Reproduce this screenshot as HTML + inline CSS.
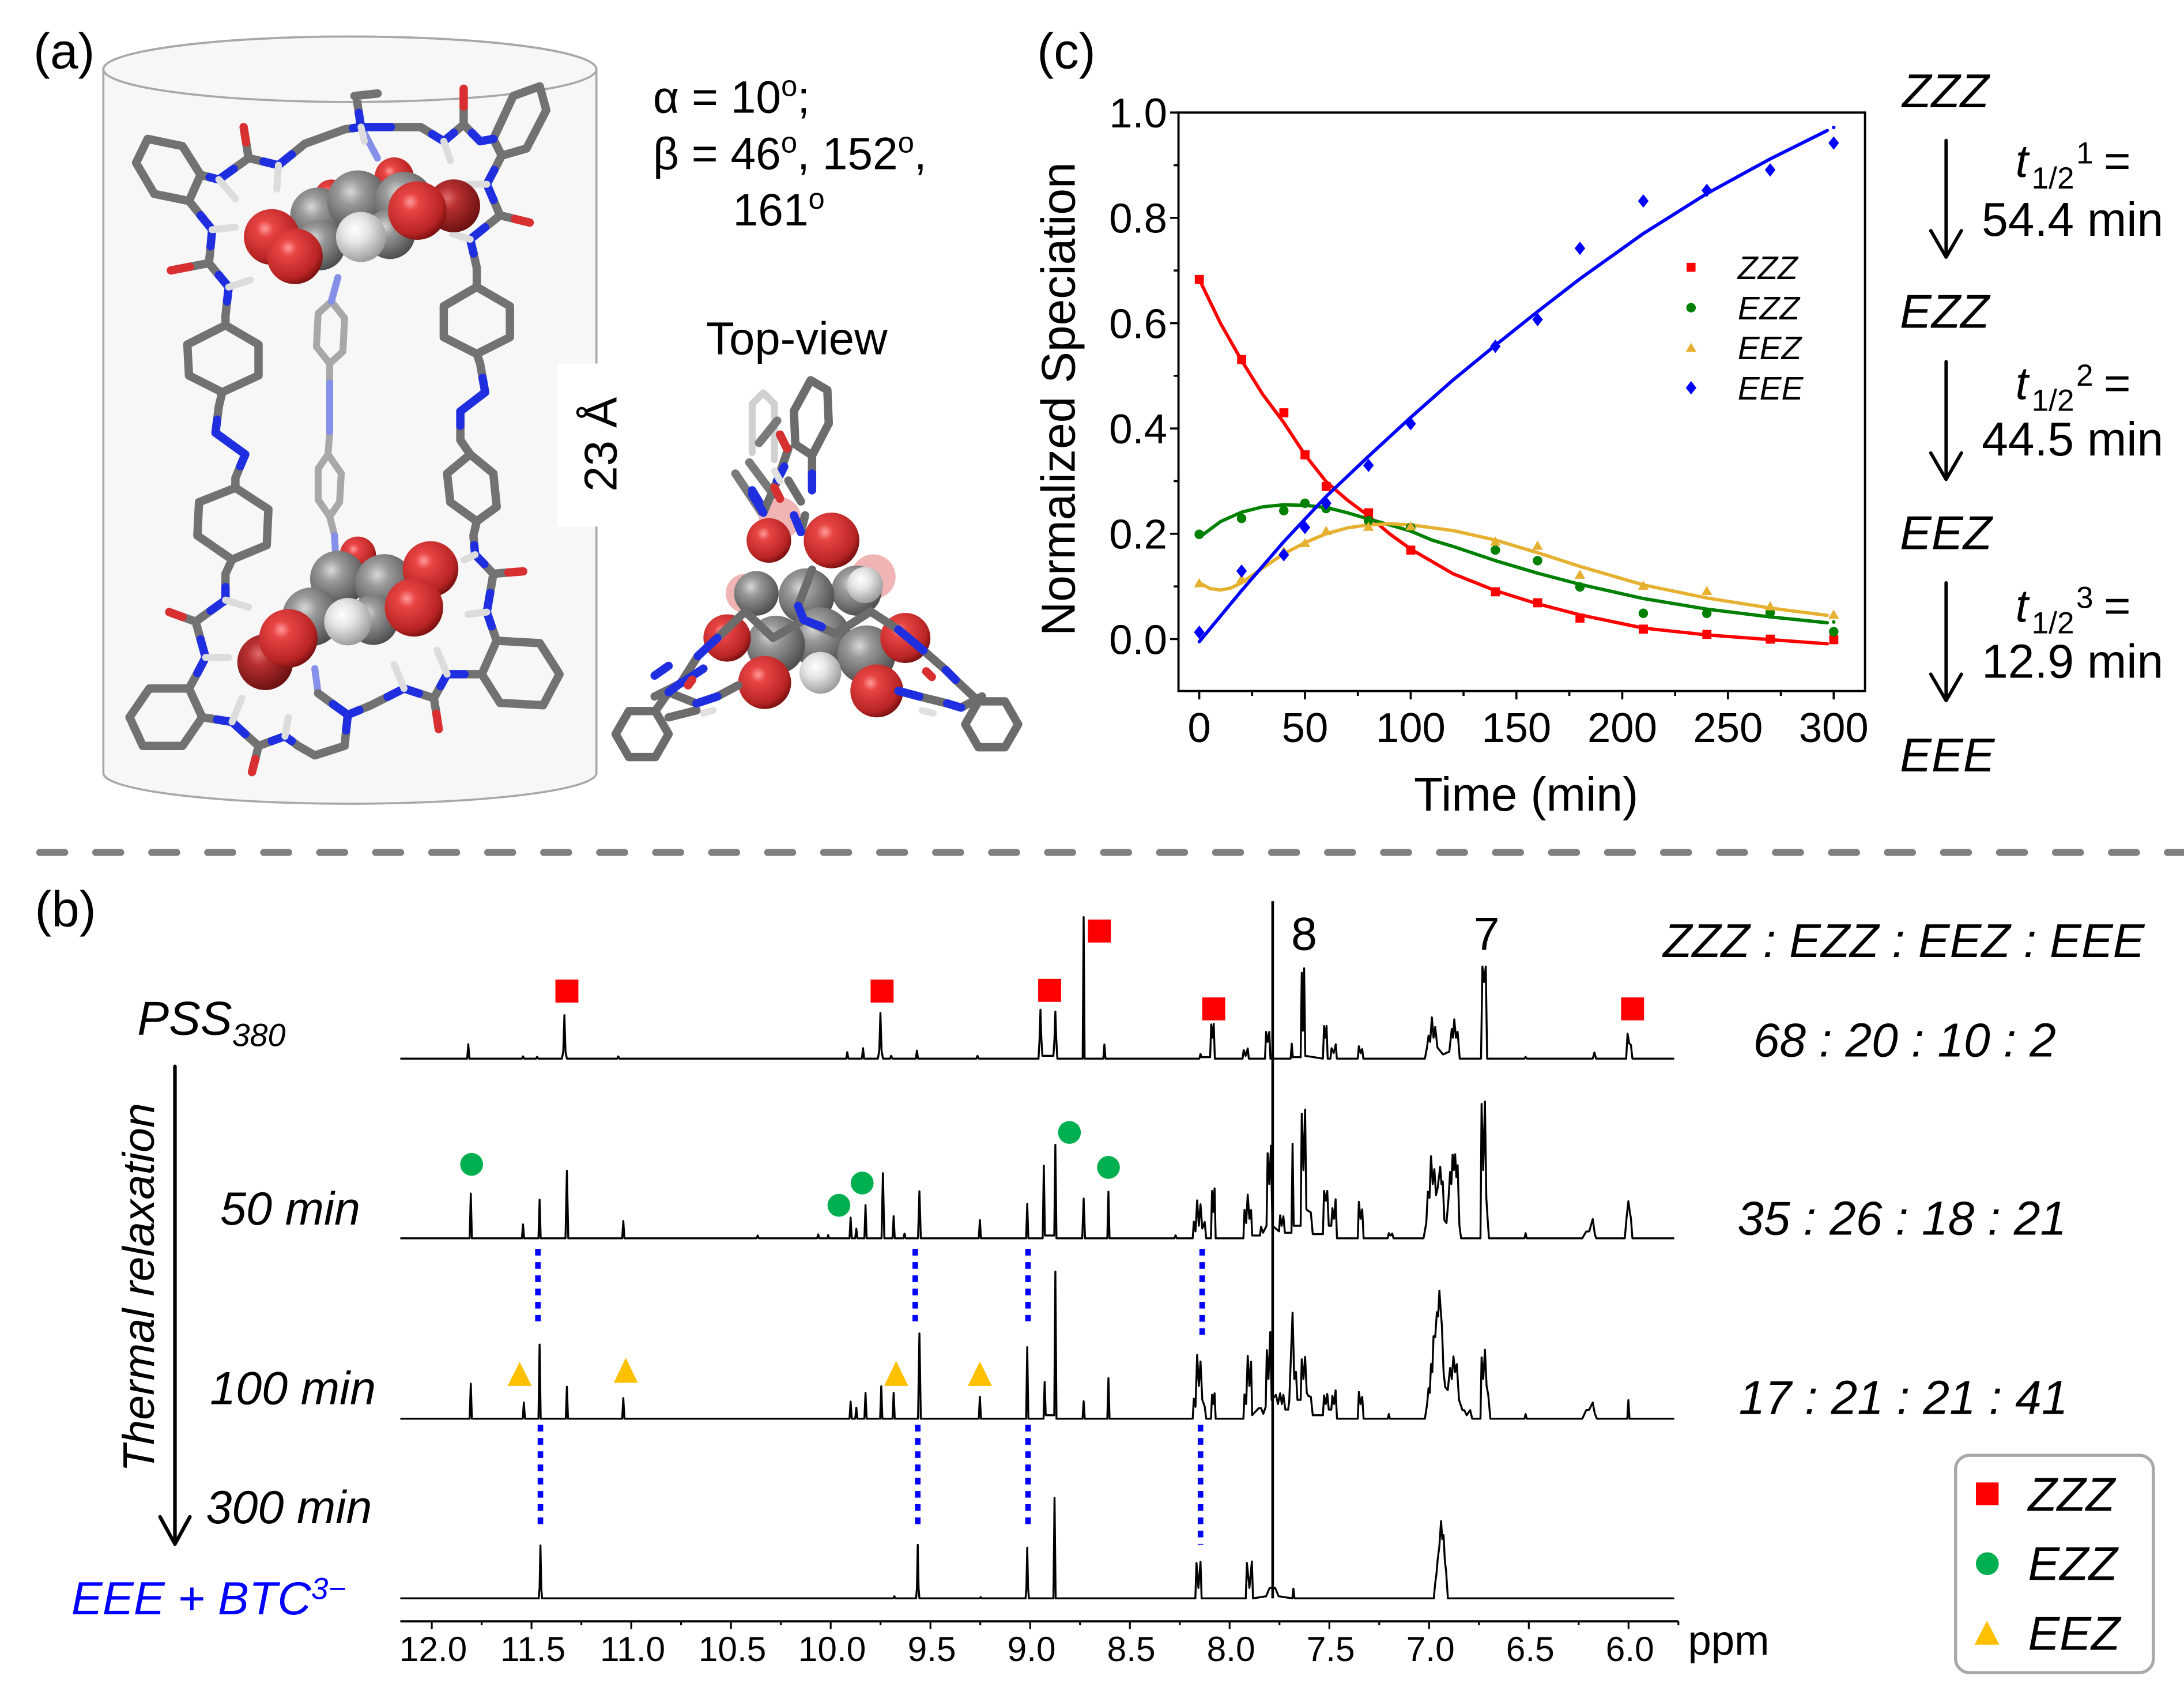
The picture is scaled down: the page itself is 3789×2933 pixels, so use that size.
<!DOCTYPE html>
<html><head><meta charset="utf-8"><style>
html,body{margin:0;padding:0;background:#fff;}
svg{display:block;}
text{font-family:"Liberation Sans",Arial,sans-serif;fill:#000;}
.it{font-style:italic;}
</style></head><body>
<svg xmlns="http://www.w3.org/2000/svg" width="3789" height="2933" viewBox="0 0 1568 1214" preserveAspectRatio="none">
<defs>
<radialGradient id="gR" cx="0.38" cy="0.35" r="0.68"><stop offset="0" stop-color="#ff9a9a"/><stop offset="0.22" stop-color="#e84444"/><stop offset="0.8" stop-color="#b82424"/><stop offset="1" stop-color="#7a1010"/></radialGradient>
<radialGradient id="gRd" cx="0.38" cy="0.35" r="0.68"><stop offset="0" stop-color="#e06a6a"/><stop offset="0.3" stop-color="#b83030"/><stop offset="1" stop-color="#6a1010"/></radialGradient>
<radialGradient id="gC" cx="0.38" cy="0.35" r="0.68"><stop offset="0" stop-color="#d8d8d8"/><stop offset="0.3" stop-color="#9a9a9a"/><stop offset="1" stop-color="#4c4c4c"/></radialGradient>
<radialGradient id="gH" cx="0.38" cy="0.35" r="0.68"><stop offset="0" stop-color="#ffffff"/><stop offset="0.4" stop-color="#e4e4e4"/><stop offset="1" stop-color="#9a9a9a"/></radialGradient>
</defs>
<rect width="1568" height="1214" fill="#fff"/>

<!-- ================= PANEL (a) ================= -->
<text x="24" y="49" font-size="36">(a)</text>
<path d="M74.2 49.7 L74.2 555 A177 22 0 0 0 428.2 555 L428.2 49.7 A177 23.5 0 0 0 74.2 49.7 Z" fill="#f7f7f7" stroke="#a8a8a8" stroke-width="1.5"/>
<ellipse cx="251.2" cy="49.7" rx="177" ry="23.5" fill="none" stroke="#a8a8a8" stroke-width="1.5"/>
<rect x="400" y="261" width="46" height="117" fill="#fff"/>
<text transform="translate(442.5,319) rotate(-90)" text-anchor="middle" font-size="33">23 Å</text>

<g fill="none" stroke-linecap="round" stroke-linejoin="round">
<!-- middle arm (behind) -->
<g stroke="#a8a8a8" stroke-width="5">
<polygon points="237.9,216.4 247.4,228.4 246.2,252.4 236.7,261 227.2,249 228.4,225"/>
<polygon points="235.5,326.2 245,339.9 243.8,360.5 236.7,370.8 228.4,358.8 228.4,336.5"/>
<path d="M236.7 261 L236.7 275 M236.7 310 L235.5 326.2 M236.7 370.8 L240.2 384.5"/>
</g>
<path stroke="#8590e8" stroke-width="5" d="M242.6 199.2 L237.9 216.4 M236.7 275 L236.7 310 M240.2 384.5 L241 400 M259.2 91.2 L271 113.5 M228.4 497.7 L226 480"/>
<!-- main sticks -->
<g stroke="#727272" stroke-width="6">
<polygon points="97.7,116.9 106,99.7 131,104.9 144,125.5 135.7,144.3 110.8,139.2"/>
<polygon points="354.2,99.7 368.5,68.9 387.5,62 392.2,79.1 378,106.6 360.2,111.7"/>
<polygon points="342.3,206 366.1,219.8 366.1,242.1 342.3,254.1 318.6,242.1 318.6,219.8"/>
<polygon points="337.6,326.2 354.2,339.9 356.6,363.9 342.3,374.2 323.3,360.5 321,339.9"/>
<polygon points="356.6,460 387.5,461.7 401.7,484 389.9,506.3 359,504.6 345.9,484"/>
<polygon points="145.2,514.9 131,535.5 102.5,535.5 93,514.9 107.2,494.3 135.7,494.3"/>
<polygon points="169,350.2 192.7,365.6 191.5,391.4 166.6,401.7 141.7,384.5 142.9,360.5"/>
<polygon points="159.5,281.6 185.6,269.6 185.6,247.3 161.9,233.5 134.5,247.3 135.7,269.6"/>
<path d="M144 125.5 L150.5 127.2 M167.8 121.2 L178.5 113.5 L176.7 102.3 M178.5 113.5 L189.2 116 M209.4 110.9 L218.9 103.2 L247.4 92.9 L253.3 92 M257.6 81 L256 70 M254.5 68.9 L271.1 67.1 M280.6 91.2 L302 91.2 L310.3 96.3 M325.8 95.4 L332.9 89.4 L332.9 76.5 M332.9 89.4 L338.8 95.4 M360.2 111.7 L354.9 122 M354.3 143.5 L359 154.6 L369.7 157.2 M359 154.6 L348.3 163.2 M340 182 L342.3 192.4 L342.3 206 M342.3 254.1 L344.7 261 L346.5 271.3 M330.5 305.6 L330.5 315.9 L337.6 326.2 M342.3 374.2 L339.9 384.5 L340.5 391.4 M347.7 405 L354.2 411.9 L364.9 411 M354.2 411.9 L351.9 425.6 M353 449.7 L356.6 460 M345.9 484 L333.5 484 M316.3 492.6 L311.5 501.2 L313.3 512.3 M311.5 501.2 L300.8 497.8 M278.3 500.3 L266.4 506.3 L258 509.8 M248.5 524.4 L247.4 535.5 L226 542.3 L214.1 535.5 L209.4 532 M239 505.5 L228.4 497.7 M195.1 532 L185.6 535.5 L183.3 545 M185.6 535.5 L176.1 527 M155.9 516.6 L145.2 514.9 M135.7 494.3 L141.7 483.2 M144 459 L140.5 446.3 L131 442.9 M140.5 446.3 L151.2 438.5 M161.9 421.4 L161.9 412 L166.6 401.7 M169 350.2 L169 343.3 L172.5 334.7 M155.9 301.3 L157.1 291.9 L159.5 281.6 M161.9 233.5 L161.9 226.7 L163 216.4 M157.1 197.5 L150 188.9 L136.4 191.5 M150 188.9 L151.2 176.9 M144 154.6 L135.7 144.3"/>
</g>
<path stroke="#1f2fe0" stroke-width="6" d="M150.5 127.2 L157.1 128.9 L167.8 121.2 M189.2 116 L199.9 118.6 L209.4 110.9 M253.3 92 L259.2 91.2 L257.6 81 M259.2 91.2 L280.6 91.2 M310.3 96.3 L318.6 101.4 L325.8 95.4 M338.8 95.4 L344.7 101.4 L354.2 99.7 M354.9 122 L349.5 132.3 L354.3 143.5 M348.3 163.2 L337.6 171.8 L340 182 M346.5 271.3 L348.3 281.6 L330.5 295.3 L330.5 305.6 M340.5 391.4 L341.1 398.2 L347.7 405 M351.9 425.6 L349.5 439.4 L353 449.7 M333.5 484 L321 484 L316.3 492.6 M300.8 497.8 L290.1 494.3 L278.3 500.3 M258 509.8 L249.7 513.2 L248.5 524.4 M249.7 513.2 L239 505.5 M209.4 532 L204.6 528.6 L195.1 532 M176.1 527 L166.6 518.3 L155.9 516.6 M141.7 483.2 L147.6 472 L144 459 M151.2 438.5 L161.9 430.8 L161.9 421.4 M172.5 334.7 L176.1 326.2 L154.7 310.7 L155.9 301.3 M163 216.4 L164.2 206.1 L157.1 197.5 M151.2 176.9 L152.3 164.9 L144 154.6"/>
<path stroke="#d83030" stroke-width="6" d="M176.7 102.3 L174.9 91.2 M332.9 76.5 L332.9 63.7 M369.7 157.2 L380.3 159.8 M364.9 411 L375.6 410.2 M313.3 512.3 L315 523.4 M183.3 545 L180.9 554.3 M131 442.9 L121.5 439.4 M136.4 191.5 L122.7 194.1"/>
<path stroke="#dcdcdc" stroke-width="5" d="M157.1 128.9 L169 142.6 M199.9 118.6 L198.7 135.8 M259.2 91.2 L261.6 101.4 M318.6 101.4 L323.3 115.2 M349.5 132.3 L332.9 132.3 M337.6 171.8 L325 168 M341.1 398.2 L333 402 M349.5 439.4 L336 441 M321 484 L313.8 466.8 M290.1 494.3 L283 477.1 M204.6 528.6 L207 515 M166.6 518.3 L173.7 501.2 M147.6 472 L164.2 472 M161.9 430.8 L178.5 436 M164.2 206.1 L179.7 201 M152.3 164.9 L169 163.2"/>
</g>
<!-- top BTC -->
<circle cx="237.9" cy="140.9" r="12" fill="url(#gR)"/>
<circle cx="283" cy="127" r="14" fill="url(#gR)"/>
<circle cx="228.4" cy="154.6" r="20" fill="url(#gC)"/>
<circle cx="256.9" cy="144.3" r="22" fill="url(#gC)"/>
<circle cx="290.1" cy="144.3" r="21" fill="url(#gC)"/>
<circle cx="230" cy="176" r="18" fill="url(#gC)"/>
<circle cx="280" cy="168" r="18" fill="url(#gC)"/>
<circle cx="325.7" cy="147.8" r="19" fill="url(#gRd)"/>
<circle cx="299.6" cy="151.2" r="21" fill="url(#gR)"/>
<circle cx="259.2" cy="170.1" r="18" fill="url(#gH)"/>
<circle cx="195.1" cy="170.1" r="20" fill="url(#gR)"/>
<circle cx="211.7" cy="184" r="20" fill="url(#gR)"/>
<!-- bottom BTC -->
<circle cx="256.9" cy="398.2" r="13" fill="url(#gR)"/>
<circle cx="242.6" cy="415.4" r="20" fill="url(#gC)"/>
<circle cx="275.9" cy="418.8" r="21" fill="url(#gC)"/>
<circle cx="223.6" cy="442.8" r="21" fill="url(#gC)"/>
<circle cx="268" cy="445" r="18" fill="url(#gC)"/>
<circle cx="309.1" cy="408.5" r="20" fill="url(#gR)"/>
<circle cx="297.2" cy="436" r="21" fill="url(#gR)"/>
<circle cx="249.7" cy="446.3" r="17" fill="url(#gH)"/>
<circle cx="190.4" cy="475.4" r="20" fill="url(#gRd)"/>
<circle cx="207" cy="458.3" r="21" fill="url(#gR)"/>

<text x="468.8" y="80.9" font-size="32.5">α = 10<tspan font-size="21" dy="-12">o</tspan><tspan dy="12">;</tspan></text>
<text x="468.8" y="121.4" font-size="32.5">β = 46<tspan font-size="21" dy="-12">o</tspan><tspan dy="12">, 152</tspan><tspan font-size="21" dy="-12">o</tspan><tspan dy="12">,</tspan></text>
<text x="526.2" y="161.9" font-size="32.5">161<tspan font-size="21" dy="-12">o</tspan></text>
<text x="507" y="254.4" font-size="33">Top-view</text>

<!-- top view molecule -->
<g fill="none" stroke-linecap="round" stroke-linejoin="round">
<path d="M540 290 L548 282 L556 290 L556 330 M540 290 L540 325" stroke="#d0d0d0" stroke-width="5"/>
<path d="M528 340 L548 370 M538 332 L556 356 M545 318 L558 302" stroke="#7a7a7a" stroke-width="6"/>
<path d="M548 370 L556 356 M540 352 L546 362" stroke="#1f2fe0" stroke-width="6"/>
</g>
<circle cx="560" cy="372" r="15" fill="#f0b4b4"/>
<circle cx="627" cy="414" r="16" fill="#f0b4b4"/>
<circle cx="535" cy="426" r="14" fill="#f0b4b4"/>
<circle cx="552" cy="388" r="16" fill="url(#gR)"/>
<circle cx="597" cy="388" r="20" fill="url(#gR)"/>
<circle cx="543" cy="426" r="16" fill="url(#gC)"/>
<circle cx="615" cy="424" r="18" fill="url(#gC)"/>
<circle cx="579" cy="428" r="20" fill="url(#gC)"/>
<circle cx="621" cy="420" r="13" fill="url(#gH)"/>
<circle cx="589" cy="458" r="22" fill="url(#gC)"/>
<circle cx="557" cy="463" r="21" fill="url(#gC)"/>
<circle cx="622" cy="470" r="21" fill="url(#gC)"/>
<circle cx="589" cy="483" r="15" fill="url(#gH)"/>
<circle cx="522" cy="458" r="17" fill="url(#gR)"/>
<circle cx="650" cy="458" r="18" fill="url(#gR)"/>
<circle cx="549" cy="490" r="19" fill="url(#gR)"/>
<circle cx="629.5" cy="496" r="19" fill="url(#gR)"/>
<g fill="none" stroke-linecap="round" stroke-linejoin="round">
<g stroke="#6c6c6c" stroke-width="6">
<polygon points="582,273 594,280 595,304 583,327 571,319 570,295"/>
<polygon points="480,527 470.5,543.5 451.5,543.5 442,527 451.5,510.5 470.5,510.5"/>
<polygon points="731,520 721.5,536.5 702.5,536.5 693,520 702.5,503.5 721.5,503.5"/>
<path d="M583 327 L583 340 M578 370 L575 382 M583 409 L573 435 M577 445 L555 458 L535 439 L515 458 M501 471 L489 490 M480 497 L470.5 510.5 M577 445 L600 455 L625 439 L645 452 M663 467 L679 481 M686 488 L702.5 503.5 M575 360 L566 345 M548 368 L558 345 L566 322 M480 497 L500 505 M515 500 L530 492 M660 500 L680 505 M470 500 L490 490 M690 508 L705 500 M480 515 L500 510"/>
</g>
<path stroke="#1f2fe0" stroke-width="6" d="M583 340 L583 352 M575 382 L570 370 M573 435 L577 445 L590 450 M515 458 L501 471 M489 490 L480 497 M645 452 L663 467 M679 481 L686 488 M548 368 L540 355 M558 345 L563 335 M500 505 L515 500 M660 500 L645 496 M490 490 L505 480 M680 505 L690 508 M470 485 L480 478"/>
<path stroke="#d83030" stroke-width="6" d="M560 358 L556 350 M497 488 L494 492 M665 482 L669 486 M565 322 L560 312"/>
<path stroke="#e0e0e0" stroke-width="5" d="M505 512 L512 510 M662 510 L670 512 M560 345 L556 338"/>
</g>

<!-- ================= PANEL (c) ================= -->
<text x="744.6" y="49" font-size="36">(c)</text>
<rect x="846.1" y="80.8" width="492.9" height="415.3" fill="none" stroke="#000" stroke-width="1.6"/>
<path stroke="#000" stroke-width="1.5" fill="none" d="M840.1 458.8 H846.1 M840.1 383.2 H846.1 M840.1 307.6 H846.1 M840.1 232 H846.1 M840.1 156.4 H846.1 M840.1 80.8 H846.1 M842.6 421 H846.1 M842.6 345.4 H846.1 M842.6 269.8 H846.1 M842.6 194.2 H846.1 M842.6 118.6 H846.1 M861 496.1 V502.1 M936.9 496.1 V502.1 M1012.8 496.1 V502.1 M1088.7 496.1 V502.1 M1164.7 496.1 V502.1 M1240.6 496.1 V502.1 M1316.5 496.1 V502.1 M898.95 496.1 V499.6 M974.85 496.1 V499.6 M1050.75 496.1 V499.6 M1126.7 496.1 V499.6 M1202.65 496.1 V499.6 M1278.55 496.1 V499.6"/>
<g font-size="30" text-anchor="end">
<text x="838" y="91.5">1.0</text><text x="838" y="167.1">0.8</text><text x="838" y="242.7">0.6</text><text x="838" y="318.3">0.4</text><text x="838" y="393.9">0.2</text><text x="838" y="469.5">0.0</text>
</g>
<g font-size="30" text-anchor="middle">
<text x="861" y="532.7">0</text><text x="936.9" y="532.7">50</text><text x="1012.8" y="532.7">100</text><text x="1088.7" y="532.7">150</text><text x="1164.7" y="532.7">200</text><text x="1240.6" y="532.7">250</text><text x="1316.5" y="532.7">300</text>
</g>
<text x="1095.7" y="582" font-size="34" text-anchor="middle">Time (min)</text>
<text transform="translate(771.6,286.5) rotate(-90)" font-size="34" text-anchor="middle">Normalized Speciation</text>

<g fill="none" stroke-width="2.4" stroke-linejoin="round" stroke-linecap="round">
<polyline stroke="#ff0000" points="861,200.6 876.2,232 891.4,258.8 906.5,283 921.7,303.4 936.9,326.5 952.1,345.8 967.3,359 982.5,370.3 997.6,383.2 1012.8,394.2 1043.2,411.9 1073.6,424 1103.9,433.5 1134.3,441.4 1179.8,450.9 1225.4,455.8 1270.9,459.2 1311.9,462.2"/>
<polyline stroke="#008000" points="861,385.8 876.2,374.5 891.4,367.7 906.5,363.9 921.7,362.4 936.9,362.8 952.1,364.3 967.3,368.1 982.5,372.6 997.6,376.8 1012.8,381.3 1028,387.7 1043.2,392.3 1073.6,402.5 1103.9,411.5 1134.3,419.5 1179.8,429.7 1225.4,437.3 1270.9,442.9 1311.9,447.1"/>
<polyline stroke="#e6b030" points="861,418.4 868.6,422.5 876.2,423.6 883.8,422.1 891.4,418.4 906.5,407.8 921.7,397.6 936.9,389.6 952.1,383.2 967.3,379 982.5,376.8 997.6,376 1012.8,376.8 1043.2,380.9 1073.6,387.7 1103.9,396.8 1134.3,406.6 1179.8,419.9 1225.4,429.3 1270.9,436.5 1311.9,441.8"/>
<polyline stroke="#0000ff" points="861,460.7 891.4,424 921.7,388.9 952.1,356.4 982.5,327.6 1012.8,299.7 1043.2,272.8 1073.6,247.9 1103.9,223.7 1134.3,200.2 1179.8,167.7 1225.4,139 1270.9,114.1 1311.9,93.7"/>
</g>
<circle cx="1316.5" cy="91.5" r="1.3" fill="#0000ff"/>
<circle cx="1316.5" cy="446.5" r="1.3" fill="#008000"/>
<!-- markers -->
<g fill="#ff0000">
<rect x="857.8" y="197.4" width="6.5" height="6.5"/><rect x="888.2" y="254.9" width="6.5" height="6.5"/><rect x="918.5" y="293.1" width="6.5" height="6.5"/><rect x="933.7" y="323.3" width="6.5" height="6.5"/><rect x="948.9" y="346" width="6.5" height="6.5"/><rect x="979.3" y="364.9" width="6.5" height="6.5"/><rect x="1009.6" y="391.7" width="6.5" height="6.5"/><rect x="1070.4" y="421.6" width="6.5" height="6.5"/><rect x="1100.7" y="429.5" width="6.5" height="6.5"/><rect x="1131.1" y="440.5" width="6.5" height="6.5"/><rect x="1176.6" y="448.4" width="6.5" height="6.5"/><rect x="1222.2" y="452.2" width="6.5" height="6.5"/><rect x="1267.7" y="455.6" width="6.5" height="6.5"/><rect x="1313.3" y="456" width="6.5" height="6.5"/>
</g>
<g fill="#008000">
<circle cx="861" cy="383.6" r="3.4"/><circle cx="891.4" cy="372.2" r="3.4"/><circle cx="921.7" cy="366.6" r="3.4"/><circle cx="936.9" cy="361.3" r="3.4"/><circle cx="952.1" cy="365.1" r="3.4"/><circle cx="982.5" cy="373.8" r="3.4"/><circle cx="1012.8" cy="378.7" r="3.4"/><circle cx="1073.6" cy="394.9" r="3.4"/><circle cx="1103.9" cy="402.5" r="3.4"/><circle cx="1134.3" cy="421.4" r="3.4"/><circle cx="1179.8" cy="440.3" r="3.4"/><circle cx="1225.4" cy="440.3" r="3.4"/><circle cx="1270.9" cy="439.9" r="3.4"/><circle cx="1316.5" cy="453.5" r="3.4"/>
</g>
<g fill="#e6b030">
<polygon points="861,415 864.8,421.6 857.2,421.6"/><polygon points="891.4,411.9 895.2,418.5 887.6,418.5"/><polygon points="921.7,392.3 925.5,398.9 917.9,398.9"/><polygon points="936.9,386.2 940.7,392.8 933.1,392.8"/><polygon points="952.1,377.5 955.9,384.1 948.3,384.1"/><polygon points="982.5,374.5 986.3,381.1 978.7,381.1"/><polygon points="1012.8,374.1 1016.6,380.7 1009,380.7"/><polygon points="1073.6,385.1 1077.4,391.7 1069.8,391.7"/><polygon points="1103.9,388.1 1107.7,394.7 1100.1,394.7"/><polygon points="1134.3,408.9 1138.1,415.5 1130.5,415.5"/><polygon points="1179.8,416.8 1183.6,423.4 1176,423.4"/><polygon points="1225.4,420.6 1229.2,427.2 1221.6,427.2"/><polygon points="1270.9,431.6 1274.7,438.2 1267.1,438.2"/><polygon points="1316.5,437.6 1320.3,444.2 1312.7,444.2"/>
</g>
<g fill="#0000ff">
<polygon points="861,449.1 864.8,453.9 861,458.7 857.2,453.9"/><polygon points="891.4,405.2 895.2,410 891.4,414.8 887.6,410"/><polygon points="921.7,393.5 925.5,398.3 921.7,403.1 917.9,398.3"/><polygon points="936.9,373.9 940.7,378.7 936.9,383.5 933.1,378.7"/><polygon points="952.1,356.5 955.9,361.3 952.1,366.1 948.3,361.3"/><polygon points="982.5,329.3 986.3,334.1 982.5,338.9 978.7,334.1"/><polygon points="1012.8,299.4 1016.6,304.2 1012.8,309 1009,304.2"/><polygon points="1073.6,243.8 1077.4,248.6 1073.6,253.4 1069.8,248.6"/><polygon points="1103.9,224.6 1107.7,229.4 1103.9,234.2 1100.1,229.4"/><polygon points="1134.3,173.5 1138.1,178.3 1134.3,183.1 1130.5,178.3"/><polygon points="1179.8,139.5 1183.6,144.3 1179.8,149.1 1176,144.3"/><polygon points="1225.4,131.9 1229.2,136.7 1225.4,141.5 1221.6,136.7"/><polygon points="1270.9,117.2 1274.7,122 1270.9,126.8 1267.1,122"/><polygon points="1316.5,97.9 1320.3,102.7 1316.5,107.5 1312.7,102.7"/>
</g>
<!-- legend (c) -->
<rect x="1210.9" y="188.7" width="6.4" height="6.4" fill="#ff0000"/>
<circle cx="1214.1" cy="220.9" r="3.4" fill="#008000"/>
<polygon points="1214.1,246 1217.9,252.6 1210.3,252.6" fill="#e6b030"/>
<polygon points="1214.1,273.6 1217.9,278.4 1214.1,283.2 1210.3,278.4" fill="#0000ff"/>
<g font-size="23.5">
<text x="1247.6" y="200.3" class="it">ZZZ</text><text x="1247.6" y="229.3" class="it">EZZ</text><text x="1247.6" y="257.8" class="it">EEZ</text><text x="1247.6" y="286.8" class="it">EEE</text>
</g>

<!-- right chain -->
<g font-size="34">
<text x="1365.7" y="76.9" class="it">ZZZ</text>
<text x="1364" y="235.4" class="it">EZZ</text>
<text x="1364" y="394.2" class="it">EEZ</text>
<text x="1364" y="553.8" class="it">EEE</text>
<text x="1422.8" y="169.2">54.4 min</text>
<text x="1422.8" y="326.9">44.5 min</text>
<text x="1422.8" y="486.5">12.9 min</text>
</g>
<g>
<text x="1447" y="126.9" font-size="33" class="it">t</text><text x="1458.6" y="135.4" font-size="22">1/2</text><text x="1490.6" y="117.3" font-size="22">1</text><text x="1510.5" y="126.9" font-size="33">=</text>
<text x="1447" y="286.5" font-size="33" class="it">t</text><text x="1458.6" y="295" font-size="22">1/2</text><text x="1490.6" y="276.9" font-size="22">2</text><text x="1510.5" y="286.5" font-size="33">=</text>
<text x="1447" y="446.1" font-size="33" class="it">t</text><text x="1458.6" y="454.6" font-size="22">1/2</text><text x="1490.6" y="436.5" font-size="22">3</text><text x="1510.5" y="446.1" font-size="33">=</text>
</g>
<g fill="none" stroke="#000" stroke-width="2.4" stroke-linecap="round" stroke-linejoin="round">
<path d="M1397.2 100.8 V184.6 M1386.2 165.6 L1397.2 184.6 L1408.2 165.6"/>
<path d="M1397.2 259.6 V344.2 M1386.2 325.2 L1397.2 344.2 L1408.2 325.2"/>
<path d="M1397.2 418.4 V503 M1386.2 484 L1397.2 503 L1408.2 484"/>
</g>

<!-- separator -->
<line x1="28.5" y1="612" x2="1568" y2="612" stroke="#808080" stroke-width="5" stroke-dasharray="18 22.2" stroke-linecap="round"/>

<!-- ================= PANEL (b) ================= -->
<text x="25" y="665" font-size="36">(b)</text>
<text x="98.6" y="742.7" font-size="34" class="it">PSS<tspan font-size="23" dy="8.3">380</tspan></text>
<text x="158.1" y="879.1" font-size="33.5" class="it">50 min</text>
<text x="150.7" y="1008" font-size="33.5" class="it">100 min</text>
<text x="147.9" y="1093.5" font-size="33.5" class="it">300 min</text>
<text x="51.2" y="1159" font-size="33.5" class="it" style="fill:#0000ff">EEE + BTC<tspan font-size="22" dy="-11" style="fill:#0000ff">3−</tspan></text>
<text transform="translate(110.5,924.3) rotate(-90)" font-size="32" text-anchor="middle" class="it">Thermal relaxation</text>
<g fill="none" stroke="#000" stroke-width="2.6" stroke-linecap="round" stroke-linejoin="round">
<path d="M125.6 765.6 V1107 M114.9 1089 L125.6 1108.5 L136.3 1089"/>
</g>

<!-- spectra -->
<g fill="none" stroke="#000" stroke-width="1.4" stroke-linejoin="round">
<path d="M287.4 760 L335.4 760 L336.2 749.7 L337 760 L374.7 760 L375.5 758.4 L376.3 760 L384.8 760 L385.6 758.7 L386.4 760 L403.4 760 L404.4 755 L405.2 728.8 L406 755 L407 760 L443.1 760 L443.9 758.4 L444.7 760 L607.5 760 L608.3 755.4 L609.1 760 L618.8 760 L619.6 752.5 L620.4 760 L630.3 760 L631.3 754 L632.1 727.2 L632.9 754 L633.9 760 L639 760 L639.8 758 L640.6 760 L657.5 760 L658.3 754.3 L659.1 760 L701 760 L701.8 758 L702.6 760 L745.6 760 L746.4 745 L747 724.9 L747.6 745 L748.4 758 L756.3 758 L757.1 745 L757.7 726.3 L758.3 745 L759.1 760 L777.3 760 L778 658.4 L778.7 760 L792.1 760 L792.9 749.9 L793.7 760 L861.1 760 L861.9 756.6 L862.7 759 L868.8 759 L869.6 735.5 L870.5 745 L871.4 735 L872.2 760 L892.1 760 L892.9 753.9 L894.3 758 L895.8 752.7 L896.6 760 L908.2 760 L909 740.8 L910.1 748 L911.3 740.8 L912.1 760 L926.6 760 L927.4 749.3 L928.2 759 L933.8 759 L934.6 698.4 L935.4 740 L936.3 695.2 L937.1 758 L949.8 760 L950.6 736.6 L951.5 745 L952.4 736.6 L953.2 760 L955.2 760 L956 752.5 L957.5 756 L959 749.7 L959.8 760 L974.8 760 L975.6 751.1 L976.8 756 L978 753.2 L978.8 760 L1023 760 L1024.5 752 L1025.6 743.5 L1026.8 748 L1028 730.4 L1029.2 745 L1030.4 737.3 L1032 752 L1036 757 L1040.5 755 L1042.3 738.7 L1043.2 745 L1044.1 731.8 L1045.3 745 L1046.5 740.8 L1048 760 L1063.3 760 L1064.3 693.9 L1065.5 705 L1066.7 693.9 L1067.7 760 L1094.5 760 L1095.3 758.7 L1096.1 760 L1143.5 760 L1144.7 755.6 L1145.9 760 L1167.5 760 L1168.5 742.1 L1169.7 749 L1170.9 750.2 L1172 760 L1202 760"/>
<path d="M287.4 889 L337.2 889 L338 856.9 L338.8 889 L374.7 889 L375.5 879 L376.3 889 L386.6 889 L387.4 861.4 L388.2 889 L406 889 L407 840.5 L408 889 L446.7 889 L447.5 876.6 L448.3 889 L543.2 889 L544 887 L544.8 889 L586.6 889 L587.4 886.2 L588.2 889 L594 889 L594.6 886.7 L595.2 889 L609.9 889 L610.7 874.1 L611.5 889 L614 889 L614.8 882.1 L615.6 889 L620.6 889 L621.4 865.2 L622.2 889 L632.9 889 L633.9 842.3 L634.9 889 L640.8 889 L641.6 873.1 L642.4 889 L648.6 889 L649.4 885.6 L650.2 889 L659.1 889 L660.1 855.2 L661.1 889 L702.7 889 L703.5 875.9 L704.3 889 L736.7 889 L737.5 864.3 L738.3 889 L748.6 889 L749.4 836.9 L750.2 887 L756.9 887 L757.7 821.9 L758.5 889 L777 889 L778 860.5 L779 889 L795 889 L795.8 855.6 L796.6 889 L843.2 889 L844 886.9 L844.8 889 L856.3 889 L857.1 877 L858.3 884 L859.5 861.8 L860.7 880 L861.9 864.6 L863.2 882 L864.9 877.3 L866 889 L869.4 889 L870.2 855 L871.1 870 L872 853.2 L872.8 889 L892.7 889 L893.5 868.6 L894.7 878 L895.8 857.7 L897 875 L898.2 868.7 L899 887 L904.6 887 L905.4 880.7 L906.8 885 L909.3 880 L910.1 827.9 L911.3 850 L912.5 822.5 L913.5 880 L918.3 884 L919.1 872.5 L920.2 880 L921.4 873.2 L922.5 885 L927.2 885 L928 821.2 L928.8 880 L933.8 880 L934.6 799.6 L935.8 840 L937 796.6 L937.9 868 L938.7 869 L941.1 870.4 L942.5 886 L949.8 886 L950.6 855 L951.8 862 L952.9 855 L954 880 L955.8 880 L956.6 867.4 L957.8 875 L958.9 861 L959.9 889 L974.8 889 L975.6 862.8 L976.8 875 L978 868.3 L979 889 L996.3 889 L997.1 885.3 L998.3 887 L999.5 885.6 L1000.5 889 L1022 889 L1024 878 L1025.1 855.5 L1026.3 860 L1027.4 830.1 L1028.6 850 L1029.8 839.4 L1031 858 L1032.2 852.5 L1033.1 845 L1034 837.6 L1034.9 850 L1035.8 848.1 L1037 876 L1038.5 878 L1040 860 L1041.1 841.4 L1042 850 L1042.9 829 L1043.8 840 L1044.7 828.7 L1045.6 845 L1046.5 836.6 L1047.8 880 L1049 889 L1062.9 889 L1063.7 792.5 L1064.9 840 L1066.1 790.8 L1067.1 860 L1067.9 873 L1069 889 L1094.5 889 L1095.3 885.3 L1096.1 889 L1136 889 L1138.8 884.2 L1141 884 L1143.5 875.2 L1145 886 L1146 889 L1166.5 889 L1167.9 873.1 L1169.1 862.4 L1170.1 870 L1170.9 874.5 L1172 889 L1202 889"/>
<path d="M287.4 1018.5 L337.2 1018.5 L338 993.4 L338.8 1018.5 L375.3 1018.5 L376.1 1006.9 L376.9 1018.5 L386.6 1018.5 L387.4 965.3 L388.2 1018.5 L406.2 1018.5 L407 995.6 L407.8 1018.5 L446.7 1018.5 L447.5 1003.7 L448.3 1018.5 L609.9 1018.5 L610.7 1006.2 L611.5 1018.5 L614 1018.5 L614.8 1010.6 L615.6 1018.5 L620.6 1018.5 L621.4 1000 L622.2 1018.5 L631.9 1018.5 L632.7 995.2 L633.5 1018.5 L640.8 1018.5 L641.6 1000 L642.4 1018.5 L659.1 1018.5 L660.1 957.3 L661.1 1018.5 L702.7 1018.5 L703.5 1002.8 L704.3 1018.5 L736.7 1018.5 L737.5 967.2 L738.3 1018.5 L749.2 1018.5 L750 992.1 L750.8 1016 L756.9 1016 L757.7 912.9 L758.5 1018.5 L777.2 1018.5 L778 1006 L778.8 1018.5 L795 1018.5 L795.8 989.4 L796.6 1018.5 L856.3 1018.5 L857.1 1004.1 L858.3 1010 L859.5 972.7 L860.7 995 L861.9 977.4 L863.2 1005 L864.9 1009.7 L866 1018.5 L869.4 1018.5 L870.2 1001.4 L871.1 1008 L872 1000.3 L872.8 1018.5 L892.7 1018.5 L893.5 1001.1 L894.7 1008 L895.8 973.4 L897 995 L898.2 977.7 L899 1016 L903.6 1011 L905.4 1011 L907 1015 L908.7 1010 L909.5 969.3 L910.7 990 L912 956.3 L913 1005 L916.1 1001.4 L917.5 1008 L919.1 1000.3 L920.3 1008 L921.4 1001.4 L922.8 1012 L924.8 1012 L925.6 1006.2 L928 942.4 L929.2 990 L930.4 984.8 L931.5 1005 L933.8 1005 L934.6 975.9 L935.8 990 L937 974.2 L938.2 1000 L939.3 1002.1 L941.1 1002.8 L942.5 1016 L949.8 1016 L950.6 1001.8 L951.8 1008 L952.9 1000.7 L954 1012 L955.8 1012 L956.6 1002.1 L957.8 1008 L958.9 998.2 L959.9 1018.5 L974.8 1018.5 L975.6 999.3 L976.8 1008 L978 1002.8 L979 1018.5 L996.3 1018.5 L997.1 1015.2 L997.9 1018.5 L1023 1018.5 L1024.6 1008 L1025.6 996.6 L1026.5 1000 L1027.4 979.3 L1028.3 985 L1029.2 959.3 L1030.4 960 L1031.6 942.1 L1032.5 945 L1033.4 926.6 L1034.3 940 L1035.2 951.7 L1036.4 985 L1037.6 995.9 L1039.4 998 L1041.1 982.1 L1042.3 990 L1043.5 973.8 L1044.7 985 L1045.9 979.3 L1047.5 1005 L1050 1012.4 L1051.3 1012.4 L1053 1016 L1055.5 1012.4 L1057 1018.5 L1062.9 1018.5 L1063.7 974.5 L1064.9 990 L1066.1 969 L1067.3 995 L1068.5 1001.4 L1070 1018.5 L1094.5 1018.5 L1095.3 1015.2 L1096.1 1018.5 L1136 1018.5 L1138.8 1012.4 L1141 1012 L1143.5 1006.9 L1145 1015 L1146.5 1018.5 L1168.3 1018.5 L1169.1 1005.2 L1169.9 1018.5 L1202 1018.5"/>
<path d="M287.4 1147.5 L386.8 1147.5 L387.4 1140 L388 1109.5 L388.6 1140 L389.2 1147.5 L641.3 1147.5 L642.1 1146 L642.9 1147.5 L657.7 1147.5 L658.3 1140 L658.9 1109.1 L659.5 1140 L660.1 1147.5 L703.3 1147.5 L704.1 1146.6 L704.9 1147.5 L736.3 1147.5 L736.9 1140 L737.5 1111.1 L738.1 1140 L738.7 1147.5 L756.3 1147.5 L757.1 1075.3 L757.9 1147.5 L858.2 1147.5 L859 1122.1 L860.4 1140 L861.9 1121.2 L862.7 1147.5 L894.4 1147.5 L895.2 1122.1 L897 1140 L898.8 1121 L899.6 1147.5 L909 1146 L911.5 1140 L915.5 1140 L918 1146 L927.8 1147.5 L928.6 1140.5 L929.4 1147.5 L1029.4 1147.5 L1030.4 1136.6 L1031.3 1130 L1032.2 1119.4 L1033.4 1110 L1034.6 1092.1 L1035.5 1105 L1036.4 1102.1 L1037.3 1120 L1038.2 1127.7 L1039.5 1147.5 L1202 1147.5"/>
</g>
<line x1="913.7" y1="647" x2="913.7" y2="1147.5" stroke="#000" stroke-width="1.9"/>
<text x="936.3" y="682" font-size="33.5" text-anchor="middle">8</text>
<text x="1067.3" y="682" font-size="33.5" text-anchor="middle">7</text>

<!-- blue dashed guides -->
<g stroke="#0000ff" stroke-width="4" stroke-dasharray="4.8 4.7" fill="none">
<path d="M386.2 896.6 V948.6 M657.1 896.6 V948.6 M738.1 896.6 V948.6 M863.1 896.6 V958.2"/>
<path d="M388 1022.9 V1094.3 M658.9 1022.9 V1094.3 M738.1 1022.9 V1094.3 M861.9 1022.9 V1109"/>
</g>

<!-- markers (b) -->
<g fill="#ff0000">
<rect x="398.75" y="703.25" width="16.5" height="16.5"/><rect x="625.05" y="703.25" width="16.5" height="16.5"/><rect x="745.35" y="702.75" width="16.5" height="16.5"/><rect x="781.05" y="660.15" width="16.5" height="16.5"/><rect x="863.15" y="716.05" width="16.5" height="16.5"/><rect x="1163.85" y="716.05" width="16.5" height="16.5"/>
</g>
<g fill="#00b050">
<circle cx="338.6" cy="835.9" r="8.2"/><circle cx="619" cy="849.3" r="8.2"/><circle cx="602.3" cy="865.3" r="8.2"/><circle cx="767.8" cy="813" r="8.2"/><circle cx="795.8" cy="838.1" r="8.2"/>
</g>
<g fill="#ffc000">
<polygon points="373.1,977.7 381.75,995 364.45,995"/><polygon points="449.3,974.8 457.95,992.7 440.65,992.7"/><polygon points="643.4,977 652.05,995 634.75,995"/><polygon points="703.5,977.4 712.15,995 694.85,995"/>
</g>

<!-- ppm axis -->
<line x1="287.4" y1="1164" x2="1205" y2="1164" stroke="#000" stroke-width="1.6"/>
<path stroke="#000" stroke-width="1.3" fill="none" d="M310 1164 V1169.5 M381.6 1164 V1169.5 M453.2 1164 V1169.5 M524.8 1164 V1169.5 M596.4 1164 V1169.5 M668 1164 V1169.5 M739.6 1164 V1169.5 M811.2 1164 V1169.5 M882.8 1164 V1169.5 M954.4 1164 V1169.5 M1026 1164 V1169.5 M1097.6 1164 V1169.5 M1169.2 1164 V1169.5 M345.8 1164 V1166.8 M417.4 1164 V1166.8 M489 1164 V1166.8 M560.6 1164 V1166.8 M632.2 1164 V1166.8 M703.8 1164 V1166.8 M775.4 1164 V1166.8 M847 1164 V1166.8 M918.6 1164 V1166.8 M990.2 1164 V1166.8 M1061.8 1164 V1166.8 M1133.4 1164 V1166.8 M1205 1164 V1166.8"/>
<g font-size="25" text-anchor="middle">
<text x="311" y="1192.5">12.0</text><text x="382.6" y="1192.5">11.5</text><text x="454.2" y="1192.5">11.0</text><text x="525.8" y="1192.5">10.5</text><text x="597.4" y="1192.5">10.0</text><text x="669" y="1192.5">9.5</text><text x="740.6" y="1192.5">9.0</text><text x="812.2" y="1192.5">8.5</text><text x="883.8" y="1192.5">8.0</text><text x="955.4" y="1192.5">7.5</text><text x="1027" y="1192.5">7.0</text><text x="1098.6" y="1192.5">6.5</text><text x="1170.2" y="1192.5">6.0</text>
</g>
<text x="1211.9" y="1188" font-size="30">ppm</text>

<!-- ratios -->
<g font-size="34" text-anchor="middle">
<text x="1366.8" y="687" class="it">ZZZ : EZZ : EEZ : EEE</text>
<text x="1367.4" y="758.4" class="it">68 : 20 : 10 : 2</text>
<text x="1365.5" y="886.4" class="it">35 : 26 : 18 : 21</text>
<text x="1366.5" y="1015.1" class="it">17 : 21 : 21 : 41</text>
</g>

<!-- legend (b) -->
<rect x="1404" y="1044.8" width="142" height="156" rx="10" ry="10" fill="#fff" stroke="#a8a8a8" stroke-width="2.2"/>
<rect x="1418.6" y="1064.3" width="16.3" height="16.3" fill="#ff0000"/>
<circle cx="1426.8" cy="1122.6" r="8.2" fill="#00b050"/>
<polygon points="1426.5,1163.6 1435.4,1180.8 1417.6,1180.8" fill="#ffc000"/>
<g font-size="34">
<text x="1456" y="1084.6" class="it">ZZZ</text>
<text x="1456" y="1134.3" class="it">EZZ</text>
<text x="1456" y="1184.4" class="it">EEZ</text>
</g>
</svg>
</body></html>
